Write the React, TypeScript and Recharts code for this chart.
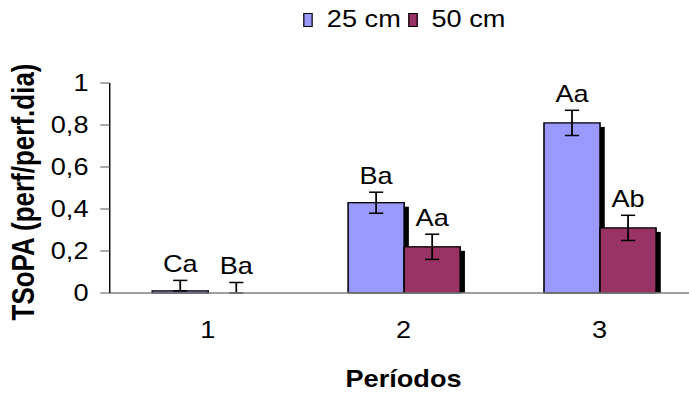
import { Bar, BarChart, ErrorBar, Label, LabelList, Legend, XAxis, YAxis } from "recharts";

// Tasa por periodo, dos profundidades
const PERIODS = ["1", "2", "3"];
const CM25 = [0.01, 0.43, 0.81];
const CM50 = [0, 0.22, 0.31];
const ERR25 = [0.05, 0.05, 0.06];
const ERR50 = [0.05, 0.06, 0.06];
const TAG25 = ["Ca", "Ba", "Aa"];
const TAG50 = ["Ba", "Aa", "Ab"];
const Y_TICKS = [0, 0.2, 0.4, 0.6, 0.8, 1];

const SERIES = [
  { key: "cm25", name: "25 cm", color: "#9999FF" },
  { key: "cm50", name: "50 cm", color: "#993366" },
];

const FONT = "'Liberation Sans', Arial, sans-serif";
// the whole chart is drawn a bit narrow and widened with scaleX
const STRETCH = 1.18;
const CHART_W = 591;
const CHART_H = 394;
const PLOT_TOP = 83;
const X_AXIS_H = 101;
const PLOT_H = CHART_H - PLOT_TOP - X_AXIS_H;

// the lower whisker is dropped when it would go below zero
const whisker = (v: number, e: number) => [v - e < 0 ? 0 : e, e];

const data = PERIODS.map((p, i) => ({
  periodo: p,
  cm25: CM25[i],
  cm50: CM50[i],
  err25: whisker(CM25[i], ERR25[i]),
  err50: whisker(CM50[i], ERR50[i]),
}));

// bar with a black drop shadow offset to the lower right
const ShadowBar = (props: any) => {
  const { x, y, width, height, fill } = props;
  if (!height || height <= 0) return null;
  return (
    <g>
      <rect x={x + 4} y={y + 4} width={width} height={Math.max(height - 4, 0)} fill="#000" />
      <rect x={x} y={y} width={width} height={height} fill={fill} stroke="#000" strokeWidth={1.3} />
    </g>
  );
};

// letter groups sit just above the top of each error bar
const tagRenderer = (tags: string[], values: number[], errs: number[]) => (p: any) => {
  const { x, y, width, height, index } = p;
  const base = y + height;
  const top = base - (values[index] + errs[index]) * PLOT_H;
  return (
    <text x={x + width / 2} y={top - 8} textAnchor="middle" fontSize={23} fontFamily={FONT} fill="#000">
      {tags[index]}
    </text>
  );
};

const LegendBox = () => (
  <div style={{ display: "flex", alignItems: "center", paddingLeft: 257, fontFamily: FONT, fontSize: 23 }}>
    {SERIES.map((s) => (
      <div key={s.key} style={{ display: "flex", alignItems: "center", marginRight: 6 }}>
        <span
          style={{
            boxSizing: "border-box",
            width: 8,
            height: 14,
            background: s.color,
            border: "1px solid #000",
            marginRight: 12,
          }}
        />
        <span>{s.name}</span>
      </div>
    ))}
  </div>
);

export default function App() {
  return (
    <div style={{ position: "absolute", left: 0, top: 0, width: 689, height: 394, overflow: "hidden", background: "#fff" }}>
      <div style={{ transform: `scaleX(${STRETCH})`, transformOrigin: "0 0", width: CHART_W }}>
        <BarChart
          width={CHART_W}
          height={CHART_H}
          data={data}
          margin={{ top: 6, right: 0, left: 0, bottom: 0 }}
          barGap={0}
          barSize={47.5}
        >
          <Legend verticalAlign="top" height={PLOT_TOP - 6} content={<LegendBox />} />
          <XAxis
            dataKey="periodo"
            height={X_AXIS_H}
            tickLine={false}
            axisLine={{ stroke: "#808080", strokeWidth: 1.5 }}
            tickMargin={23}
            tick={{ fontSize: 23, fill: "#000", fontFamily: FONT }}
          >
            <Label
              value="Períodos"
              position="insideBottom"
              offset={7}
              style={{ fontSize: 23, fontWeight: 700, fill: "#000", fontFamily: FONT }}
            />
          </XAxis>
          <YAxis
            width={93}
            domain={[0, 1]}
            ticks={Y_TICKS}
            tickSize={8}
            tickMargin={10}
            axisLine={{ stroke: "#000", strokeWidth: 1.2 }}
            tickLine={{ stroke: "#555" }}
            tickFormatter={(v: number) => String(v).replace(".", ",")}
            tick={{ fontSize: 23, fill: "#000", fontFamily: FONT }}
          >
            <Label
              value="TSoPA (perf/perf.dia)"
              angle={-90}
              position="center"
              dx={-26.5}
              dy={4}
              style={{ fontSize: 26, fontWeight: 700, fill: "#000", fontFamily: FONT, textAnchor: "middle" }}
            />
          </YAxis>
          <Bar dataKey="cm25" name="25 cm" fill="#9999FF" shape={<ShadowBar />} isAnimationActive={false}>
            <ErrorBar dataKey="err25" width={6} stroke="#000" strokeWidth={1.5} />
            <LabelList dataKey="cm25" content={tagRenderer(TAG25, CM25, ERR25)} />
          </Bar>
          <Bar dataKey="cm50" name="50 cm" fill="#993366" shape={<ShadowBar />} isAnimationActive={false}>
            <ErrorBar dataKey="err50" width={6} stroke="#000" strokeWidth={1.5} />
            <LabelList dataKey="cm50" content={tagRenderer(TAG50, CM50, ERR50)} />
          </Bar>
        </BarChart>
      </div>
    </div>
  );
}
